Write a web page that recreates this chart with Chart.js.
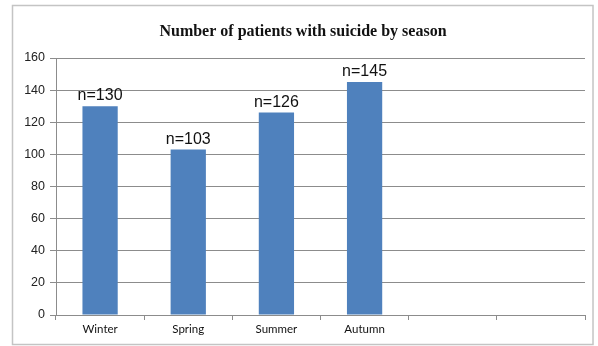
<!DOCTYPE html>
<html>
<head>
<meta charset="utf-8">
<script src="https://cdn.jsdelivr.net/npm/chart.js@4/dist/chart.umd.min.js"></script>
<style>
  html, body { margin: 0; padding: 0; background: #fff; }
  #wrap { position: relative; width: 598px; height: 346px; }
</style>
</head>
<body>
<div id="wrap"><canvas id="c" width="598" height="346"></canvas></div>
<script>
// Seasonal counts of patients with suicide
const seasons = ['Winter', 'Spring', 'Summer', 'Autumn', '', ''];
const patients = [130, 103, 126, 145, null, null];
const chartTitle = 'Number of patients with suicide by season';
const yMin = 0, yMax = 160, yStep = 20;

const gridGray = '#8c8c8c';

// outer frame and title
const framePlugin = {
  id: 'frame',
  beforeDraw(chart) {
    const ctx = chart.ctx;
    ctx.save();
    ctx.fillStyle = '#fff';
    ctx.fillRect(0, 0, chart.width, chart.height);
    ctx.strokeStyle = '#c4c4c4';
    ctx.lineWidth = 1.5;
    ctx.strokeRect(12.5, 5.5, 580.5, 339);
    ctx.restore();
  },
  afterDraw(chart) {
    const ctx = chart.ctx;
    ctx.save();
    ctx.fillStyle = '#111';
    ctx.font = 'bold 16px "Liberation Serif", "Times New Roman", serif';
    ctx.textAlign = 'center';
    ctx.textBaseline = 'alphabetic';
    ctx.fillText(chartTitle, 303, 36);
    ctx.restore();
  }
};

// "n=" value labels above each bar
const valueLabels = {
  id: 'valueLabels',
  afterDatasetsDraw(chart) {
    const ctx = chart.ctx;
    const meta = chart.getDatasetMeta(0);
    ctx.save();
    ctx.fillStyle = '#111';
    ctx.font = '16px "Liberation Sans", Arial, sans-serif';
    ctx.textAlign = 'center';
    ctx.textBaseline = 'alphabetic';
    meta.data.forEach((bar, i) => {
      const v = patients[i];
      if (v === null || v === undefined) return;
      ctx.fillText('n=' + v, bar.x, bar.y - 6);
    });
    ctx.restore();
  }
};

new Chart(document.getElementById('c'), {
  type: 'bar',
  data: {
    labels: seasons,
    datasets: [{
      data: patients,
      backgroundColor: '#4f81bd',
      borderWidth: 0,
      categoryPercentage: 1.0,
      barPercentage: 0.4
    }]
  },
  options: {
    responsive: false,
    animation: false,
    devicePixelRatio: 1,
    layout: { padding: { left: 12, right: 13, top: 58, bottom: 9 } },
    plugins: {
      legend: { display: false },
      title: { display: false },
      tooltip: { enabled: false }
    },
    scales: {
      x: {
        offset: true,
        grid: {
          display: true,
          offset: true,
          drawOnChartArea: false,
          drawTicks: true,
          tickLength: 5,
          color: gridGray,
          lineWidth: 1
        },
        border: { display: true, color: gridGray, width: 1 },
        ticks: {
          color: '#111',
          font: { family: 'Lato, "Open Sans", sans-serif', size: 11.5 },
          padding: 2,
          maxRotation: 0,
          autoSkip: false
        },
        afterFit(scale) { scale.height = 22; }
      },
      y: {
        min: yMin,
        max: yMax,
        grid: {
          color: gridGray,
          lineWidth: 1,
          drawTicks: true,
          tickLength: 6
        },
        border: { display: true, color: gridGray, width: 1 },
        ticks: {
          stepSize: yStep,
          color: '#222',
          font: { family: '"Liberation Sans", Arial, sans-serif', size: 12.5 },
          padding: 5
        },
        afterFit(scale) { scale.width = 44; }
      }
    }
  },
  plugins: [framePlugin, valueLabels]
});
</script>
</body>
</html>
